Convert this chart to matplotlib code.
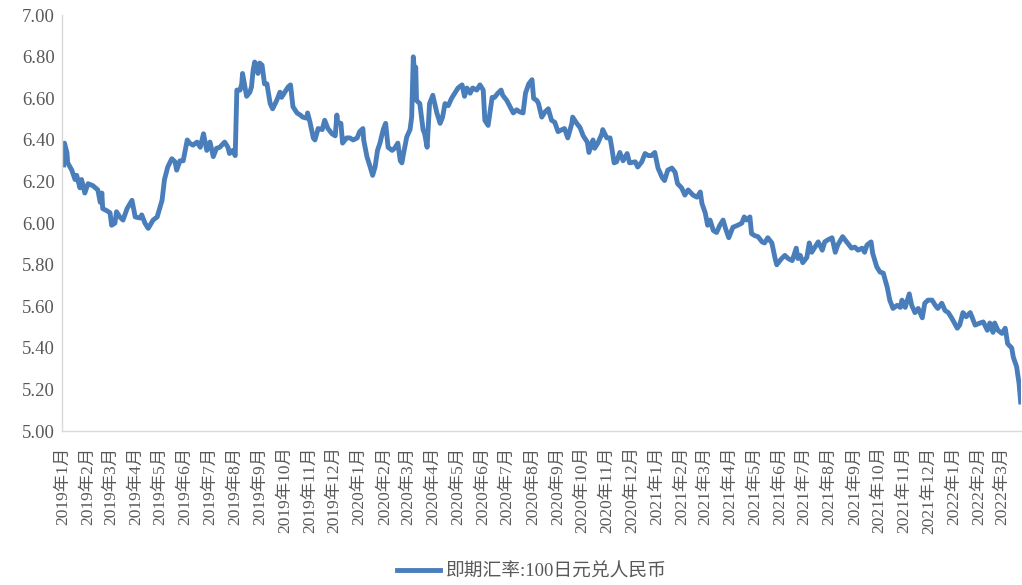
""" 即期汇率:100日元兑人民币, 2019-01 to 2022-03 """
import matplotlib
matplotlib.use("Agg")
import matplotlib.pyplot as plt
import numpy as np
import pandas as pd

# values
dates = [
    "2019-01-02", "2019-01-03", "2019-01-06", "2019-01-07", "2019-01-12", "2019-01-16", "2019-01-18",
    "2019-01-22", "2019-01-24", "2019-01-28", "2019-02-01", "2019-02-07", "2019-02-13", "2019-02-16",
    "2019-02-18", "2019-02-19", "2019-02-24", "2019-02-28", "2019-03-02", "2019-03-06", "2019-03-08",
    "2019-03-12", "2019-03-16", "2019-03-21", "2019-03-27", "2019-03-31", "2019-04-06", "2019-04-08",
    "2019-04-12", "2019-04-16", "2019-04-22", "2019-04-27", "2019-05-03", "2019-05-06", "2019-05-10",
    "2019-05-15", "2019-05-19", "2019-05-21", "2019-05-25", "2019-05-29", "2019-06-03", "2019-06-06",
    "2019-06-10", "2019-06-15", "2019-06-19", "2019-06-23", "2019-06-27", "2019-07-01", "2019-07-05",
    "2019-07-09", "2019-07-13", "2019-07-19", "2019-07-23", "2019-07-25", "2019-07-29", "2019-08-01",
    "2019-08-03", "2019-08-07", "2019-08-09", "2019-08-10", "2019-08-13", "2019-08-15", "2019-08-19",
    "2019-08-21", "2019-08-23", "2019-08-25", "2019-08-29", "2019-08-31", "2019-09-03", "2019-09-06",
    "2019-09-09", "2019-09-13", "2019-09-16", "2019-09-21", "2019-09-25", "2019-09-27", "2019-10-01",
    "2019-10-05", "2019-10-08", "2019-10-11", "2019-10-16", "2019-10-20", "2019-10-23", "2019-10-28",
    "2019-10-29", "2019-11-01", "2019-11-05", "2019-11-07", "2019-11-11", "2019-11-16", "2019-11-19",
    "2019-11-23", "2019-11-28", "2019-12-02", "2019-12-04", "2019-12-05", "2019-12-09", "2019-12-11",
    "2019-12-16", "2019-12-20", "2019-12-24", "2019-12-29", "2020-01-01", "2020-01-05", "2020-01-06",
    "2020-01-10", "2020-01-14", "2020-01-17", "2020-01-20", "2020-01-23", "2020-01-26", "2020-01-30",
    "2020-02-02", "2020-02-05", "2020-02-10", "2020-02-13", "2020-02-17", "2020-02-20", "2020-02-22",
    "2020-02-24", "2020-02-28", "2020-03-03", "2020-03-05", "2020-03-07", "2020-03-09", "2020-03-10",
    "2020-03-11", "2020-03-15", "2020-03-19", "2020-03-21", "2020-03-24", "2020-03-27", "2020-03-31",
    "2020-04-05", "2020-04-09", "2020-04-12", "2020-04-15", "2020-04-19", "2020-04-23", "2020-04-27",
    "2020-05-01", "2020-05-06", "2020-05-09", "2020-05-12", "2020-05-16", "2020-05-19", "2020-05-24",
    "2020-05-28", "2020-06-01", "2020-06-03", "2020-06-07", "2020-06-12", "2020-06-15", "2020-06-19",
    "2020-06-23", "2020-06-25", "2020-06-30", "2020-07-04", "2020-07-08", "2020-07-12", "2020-07-16",
    "2020-07-20", "2020-07-23", "2020-07-27", "2020-07-31", "2020-08-02", "2020-08-06", "2020-08-08",
    "2020-08-12", "2020-08-16", "2020-08-20", "2020-08-24", "2020-08-28", "2020-09-01", "2020-09-06",
    "2020-09-09", "2020-09-13", "2020-09-18", "2020-09-19", "2020-09-24", "2020-09-28", "2020-10-02",
    "2020-10-07", "2020-10-09", "2020-10-14", "2020-10-16", "2020-10-20", "2020-10-25", "2020-10-26",
    "2020-10-31", "2020-11-04", "2020-11-06", "2020-11-09", "2020-11-12", "2020-11-16", "2020-11-20",
    "2020-11-25", "2020-11-28", "2020-12-05", "2020-12-08", "2020-12-13", "2020-12-17", "2020-12-21",
    "2020-12-25", "2020-12-29", "2021-01-02", "2021-01-07", "2021-01-10", "2021-01-14", "2021-01-19",
    "2021-01-23", "2021-01-26", "2021-01-31", "2021-02-04", "2021-02-08", "2021-02-14", "2021-02-19",
    "2021-02-23", "2021-02-25", "2021-03-01", "2021-03-04", "2021-03-07", "2021-03-11", "2021-03-15",
    "2021-03-19", "2021-03-23", "2021-03-26", "2021-03-30", "2021-04-04", "2021-04-10", "2021-04-15",
    "2021-04-18", "2021-04-21", "2021-04-25", "2021-04-27", "2021-05-01", "2021-05-05", "2021-05-10",
    "2021-05-13", "2021-05-17", "2021-05-22", "2021-05-26", "2021-05-28", "2021-06-03", "2021-06-07",
    "2021-06-11", "2021-06-16", "2021-06-21", "2021-06-23", "2021-06-26", "2021-06-29", "2021-07-04",
    "2021-07-07", "2021-07-10", "2021-07-14", "2021-07-18", "2021-07-23", "2021-07-26", "2021-07-30",
    "2021-08-04", "2021-08-08", "2021-08-11", "2021-08-17", "2021-08-22", "2021-08-28", "2021-09-01",
    "2021-09-05", "2021-09-10", "2021-09-13", "2021-09-16", "2021-09-21", "2021-09-23", "2021-09-28",
    "2021-10-02", "2021-10-06", "2021-10-11", "2021-10-14", "2021-10-18", "2021-10-23", "2021-10-27",
    "2021-10-29", "2021-11-02", "2021-11-07", "2021-11-10", "2021-11-14", "2021-11-18", "2021-11-23",
    "2021-11-26", "2021-11-30", "2021-12-05", "2021-12-09", "2021-12-12", "2021-12-17", "2021-12-21",
    "2021-12-25", "2021-12-29", "2022-01-05", "2022-01-08", "2022-01-12", "2022-01-16", "2022-01-21",
    "2022-01-27", "2022-02-02", "2022-02-06", "2022-02-11", "2022-02-14", "2022-02-18", "2022-02-20",
    "2022-02-24", "2022-03-01", "2022-03-05", "2022-03-08", "2022-03-13", "2022-03-15", "2022-03-19",
    "2022-03-22", "2022-03-24",
]
rate = [
    6.28, 6.385, 6.34, 6.29, 6.255, 6.21, 6.23,
    6.17, 6.21, 6.145, 6.19, 6.18, 6.16, 6.10,
    6.145, 6.07, 6.06, 6.05, 5.99, 6.00, 6.055,
    6.03, 6.015, 6.07, 6.11, 6.03, 6.025, 6.04,
    6.00, 5.975, 6.015, 6.03, 6.11, 6.21, 6.27,
    6.31, 6.295, 6.255, 6.30, 6.30, 6.40, 6.385,
    6.375, 6.39, 6.365, 6.43, 6.35, 6.39, 6.32,
    6.36, 6.365, 6.39, 6.365, 6.335, 6.35, 6.325,
    6.64, 6.64, 6.67, 6.72, 6.655, 6.61, 6.63,
    6.655, 6.735, 6.775, 6.72, 6.77, 6.76, 6.67,
    6.67, 6.575, 6.55, 6.59, 6.63, 6.605, 6.63,
    6.655, 6.665, 6.56, 6.53, 6.52, 6.51, 6.505,
    6.53, 6.485, 6.41, 6.40, 6.455, 6.45, 6.495,
    6.455, 6.43, 6.42, 6.52, 6.485, 6.48, 6.385,
    6.41, 6.41, 6.40, 6.41, 6.44, 6.455, 6.40,
    6.32, 6.27, 6.23, 6.27, 6.35, 6.385, 6.45,
    6.48, 6.365, 6.35, 6.36, 6.385, 6.30, 6.29,
    6.335, 6.415, 6.45, 6.51, 6.80, 6.70, 6.75,
    6.59, 6.575, 6.45, 6.43, 6.365, 6.575, 6.615,
    6.53, 6.48, 6.51, 6.575, 6.565, 6.60, 6.625,
    6.65, 6.665, 6.61, 6.65, 6.625, 6.65, 6.64,
    6.665, 6.64, 6.495, 6.47, 6.605, 6.605, 6.625,
    6.64, 6.615, 6.59, 6.56, 6.53, 6.545, 6.535,
    6.53, 6.625, 6.67, 6.69, 6.60, 6.59, 6.575,
    6.51, 6.535, 6.55, 6.495, 6.485, 6.44, 6.45,
    6.455, 6.41, 6.48, 6.51, 6.48, 6.46, 6.42,
    6.39, 6.34, 6.40, 6.36, 6.385, 6.43, 6.45,
    6.41, 6.41, 6.365, 6.29, 6.295, 6.34, 6.30,
    6.335, 6.29, 6.295, 6.27, 6.295, 6.335, 6.325,
    6.325, 6.34, 6.265, 6.22, 6.205, 6.255, 6.265,
    6.245, 6.19, 6.17, 6.135, 6.16, 6.135, 6.125,
    6.15, 6.095, 6.05, 5.99, 6.015, 5.965, 5.955,
    5.99, 6.015, 5.975, 5.93, 5.98, 5.99, 6.00,
    6.03, 6.015, 6.03, 5.95, 5.94, 5.935, 5.91,
    5.905, 5.93, 5.905, 5.83, 5.80, 5.83, 5.845,
    5.83, 5.82, 5.88, 5.83, 5.845, 5.81, 5.835,
    5.905, 5.86, 5.885, 5.91, 5.87, 5.91, 5.92,
    5.93, 5.86, 5.895, 5.935, 5.91, 5.88, 5.885,
    5.87, 5.88, 5.86, 5.895, 5.91, 5.855, 5.79,
    5.765, 5.76, 5.69, 5.63, 5.59, 5.605, 5.595,
    5.63, 5.595, 5.66, 5.605, 5.57, 5.59, 5.545,
    5.615, 5.63, 5.63, 5.605, 5.59, 5.615, 5.58,
    5.57, 5.545, 5.495, 5.51, 5.57, 5.55, 5.57,
    5.51, 5.52, 5.525, 5.485, 5.52, 5.475, 5.52,
    5.485, 5.47, 5.495, 5.42, 5.40, 5.355, 5.31,
    5.23, 5.14,
]
yticks = [5.00, 5.20, 5.40, 5.60, 5.80, 6.00, 6.20, 6.40, 6.60, 6.80, 7.00]
series_name = "即期汇率:100日元兑人民币"

fonts = ["Liberation Serif", "Noto Sans CJK SC", "DejaVu Sans"]
plt.rcParams["font.family"] = fonts

x = pd.to_datetime(dates)
y = np.array(rate)

fig = plt.figure(figsize=(10.22, 5.85), dpi=100)
ax = fig.add_axes([0.0607, 0.263, 0.938, 0.711])

ax.plot(x, y, color="#4a7ebb", lw=3.5, solid_joinstyle="round", label=series_name)

ax.set_ylim(5.0, 7.0)
ax.set_yticks(yticks)
ax.set_yticklabels([f"{v:.2f}" for v in yticks])
ax.set_xlim(pd.Timestamp("2018-12-31"), x[-1])

months = pd.date_range("2019-01-01", "2022-03-01", freq="MS")
ax.set_xticks(months)
ax.set_xticklabels([f"{m.year}年{m.month}月" for m in months], rotation=90)

for s in ["top", "right"]:
    ax.spines[s].set_visible(False)
for s in ["left", "bottom"]:
    ax.spines[s].set_color("#d9d9d9")
    ax.spines[s].set_linewidth(1.0)

ax.tick_params(axis="x", length=0, pad=11, labelsize=12.5, labelcolor="#595959")
ax.tick_params(axis="y", length=0, pad=5, labelsize=13.5, labelcolor="#595959")

leg = fig.legend(loc="center", bbox_to_anchor=(0.52, 0.022), frameon=False,
                 handlelength=2.3, handletextpad=0.3, fontsize=13.5)
for t in leg.get_texts():
    t.set_color("#595959")

fig.savefig("out.png", dpi=100)
